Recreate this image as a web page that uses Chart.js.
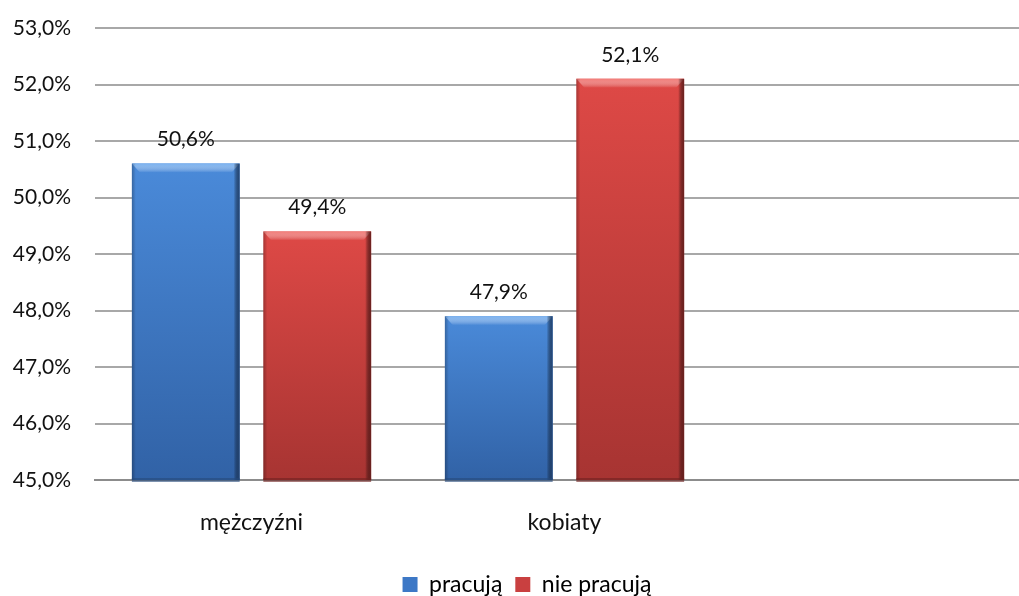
<!DOCTYPE html>
<html lang="pl">
<head>
    <meta charset="UTF-8">
    <title>Pracujący i niepracujący</title>
    <script src="https://cdn.jsdelivr.net/npm/chart.js"></script>
    <style>
        body {
            margin: 0;
            padding: 0;
            background: #fff;
            overflow: hidden;
        }
        /* the plot runs on past the right edge, the third category is left empty */
        .wrap {
            position: relative;
            width: 1035px;
            height: 596px;
        }
    </style>
</head>
<body>
    <div class="wrap"><canvas id="chart"></canvas></div>

    <script>
        // Data
        const categories = ['mężczyźni', 'kobiaty', ''];
        const seriesNames = ['pracują', 'nie pracują'];
        const pracuja = [50.6, 47.9, null];
        const niePracuja = [49.4, 52.1, null];
        const yTicks = [45, 46, 47, 48, 49, 50, 51, 52, 53];

        const FONT = 'Lato, "Open Sans", sans-serif';
        const palette = {
            blue: { top: '#4a8ad9', bottom: '#3162a6', light: '#79b1f0', dark: '#26497a', solid: '#3d78c6' },
            red:  { top: '#de4946', bottom: '#a73432', light: '#f27a76', dark: '#6e2220', solid: '#c94040' }
        };

        const pct = v => v.toFixed(1).replace('.', ',') + '%';

        // vertical gradient running from the top of each bar down to the axis
        function barFill(colors) {
            return function (ctx) {
                const chart = ctx.chart;
                const value = ctx.raw;
                if (!chart.chartArea || value == null) return colors.solid;
                const y = chart.scales.y;
                const g = chart.ctx.createLinearGradient(0, y.getPixelForValue(value), 0, y.getPixelForValue(y.min));
                g.addColorStop(0, colors.top);
                g.addColorStop(1, colors.bottom);
                return g;
            };
        }

        // soft bevel on the bars: light top edge, darker sides
        const bevel = {
            id: 'bevel',
            afterDatasetsDraw(chart) {
                const c = chart.ctx;
                const base = chart.scales.y.getPixelForValue(chart.scales.y.min);
                chart.data.datasets.forEach((ds, i) => {
                    const colors = i === 0 ? palette.blue : palette.red;
                    chart.getDatasetMeta(i).data.forEach((bar, j) => {
                        if (ds.data[j] == null) return;
                        const top = bar.y, h = base - top;
                        const l = bar.x - bar.width / 2, r = bar.x + bar.width / 2;
                        c.save();
                        // top highlight
                        const hg = c.createLinearGradient(0, top, 0, top + 9);
                        hg.addColorStop(0, colors.light);
                        hg.addColorStop(1, 'rgba(255,255,255,0)');
                        c.fillStyle = hg;
                        c.beginPath();
                        c.moveTo(l, top);
                        c.lineTo(r, top);
                        c.lineTo(r - 8, top + 9);
                        c.lineTo(l + 8, top + 9);
                        c.closePath();
                        c.fill();
                        // right edge
                        const rg = c.createLinearGradient(r - 6, 0, r, 0);
                        rg.addColorStop(0, 'rgba(0,0,0,0)');
                        rg.addColorStop(1, colors.dark);
                        c.fillStyle = rg;
                        c.fillRect(r - 6, top, 6, h);
                        // left edge
                        const lg = c.createLinearGradient(l, 0, l + 4, 0);
                        lg.addColorStop(0, 'rgba(0,0,0,0.25)');
                        lg.addColorStop(1, 'rgba(0,0,0,0)');
                        c.fillStyle = lg;
                        c.fillRect(l, top, 4, h);
                        // bottom edge
                        c.fillStyle = colors.dark;
                        c.globalAlpha = 0.6;
                        c.fillRect(l, base - 2, r - l, 4);
                        c.restore();
                    });
                });
            }
        };

        // value labels above the bars
        const valueLabels = {
            id: 'valueLabels',
            afterDatasetsDraw(chart) {
                const c = chart.ctx;
                c.save();
                c.font = '21px ' + FONT;
                c.fillStyle = '#111';
                c.textAlign = 'center';
                c.textBaseline = 'middle';
                chart.data.datasets.forEach((ds, i) => {
                    chart.getDatasetMeta(i).data.forEach((bar, j) => {
                        if (ds.data[j] == null) return;
                        c.fillText(pct(ds.data[j]), bar.x, bar.y - 24);
                    });
                });
                c.restore();
            }
        };

        // nudge the legend a little right and down, under the two groups
        const legendShift = {
            id: 'legendShift',
            afterLayout(chart) {
                const lg = chart.legend;
                if (!lg) return;
                lg.left += 10; lg.right += 10;
                lg.top += 10; lg.bottom += 10;
            }
        };

        new Chart(document.getElementById('chart'), {
            type: 'bar',
            data: {
                labels: categories,
                datasets: [
                    {
                        label: seriesNames[0],
                        data: pracuja,
                        backgroundColor: barFill(palette.blue),
                        borderWidth: 0,
                        categoryPercentage: 0.84,
                        barPercentage: 0.82
                    },
                    {
                        label: seriesNames[1],
                        data: niePracuja,
                        backgroundColor: barFill(palette.red),
                        borderWidth: 0,
                        categoryPercentage: 0.84,
                        barPercentage: 0.82
                    }
                ]
            },
            options: {
                responsive: true,
                maintainAspectRatio: false,
                animation: false,
                layout: { padding: { top: 28, left: 0, right: 1, bottom: 0 } },
                plugins: {
                    tooltip: { enabled: false },
                    legend: {
                        position: 'bottom',
                        labels: {
                            font: { family: FONT, size: 23 },
                            color: '#111',
                            boxWidth: 15,
                            boxHeight: 15,
                            padding: 13,
                            generateLabels: () => [
                                { text: seriesNames[0], fillStyle: palette.blue.solid, strokeStyle: palette.blue.solid, lineWidth: 0, datasetIndex: 0 },
                                { text: seriesNames[1], fillStyle: palette.red.solid, strokeStyle: palette.red.solid, lineWidth: 0, datasetIndex: 1 }
                            ]
                        }
                    }
                },
                scales: {
                    x: {
                        z: 1,
                        afterFit(scale) { scale.height = 70; },
                        grid: { display: false },
                        border: { display: true, color: '#8c8c8c', width: 2 },
                        ticks: {
                            font: { family: FONT, size: 23 },
                            color: '#111',
                            padding: 21
                        }
                    },
                    y: {
                        min: yTicks[0],
                        max: yTicks[yTicks.length - 1],
                        afterFit(scale) {
                            scale.width = 95;
                            scale.paddingTop = 0;
                            scale.paddingBottom = 0;
                        },
                        afterBuildTicks(scale) { scale.ticks = yTicks.map(v => ({ value: v })); },
                        border: { display: false },
                        grid: {
                            drawTicks: false,
                            lineWidth: 2,
                            color: ctx => ctx.tick && ctx.tick.value === yTicks[0] ? '#8c8c8c' : '#a8a8a8'
                        },
                        ticks: {
                            font: { family: FONT, size: 21 },
                            color: '#111',
                            padding: 24,
                            callback: v => pct(v)
                        }
                    }
                }
            },
            plugins: [bevel, valueLabels, legendShift]
        });
    </script>
</body>
</html>
